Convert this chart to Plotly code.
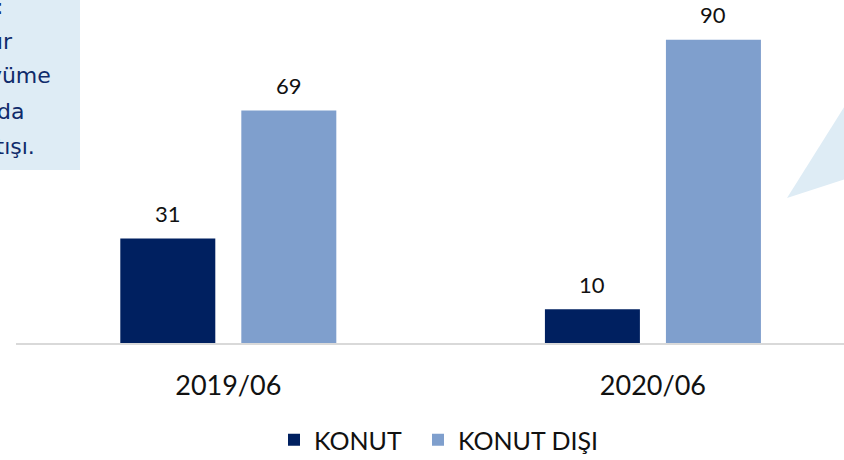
import plotly.graph_objects as go

categories = ["2019/06", "2020/06"]
series_names = ["KONUT", "KONUT DIŞI"]
konut = [31, 10]
konut_disi = [69, 90]
series_values = [konut, konut_disi]
colors = ["#002060", "#7F9FCD"]

box_lines = ["Kredi dağılımı:", "olmuştur", "büyüme", "alanında", "artışı."]

W, H = 844, 460
ML, MR, MT, MB = 16, 0, 6, 117
XR = [-0.5, 1.45]
YR = [0, 100]
BARGAP = 0.43
FONT = "Lato, 'Open Sans', sans-serif"
BOXFONT = "'DejaVu Sans', sans-serif"
legend_ids = ["legend", "legend2"]
legend_left = [289, 433]

def px(xp):
    return (xp - ML) / (W - ML - MR)

def py(yp):
    return (H - MB - yp) / (H - MT - MB)

fig = go.Figure()
for name, vals, col, lg in zip(series_names, series_values, colors, legend_ids):
    fig.add_trace(go.Bar(
        x=categories, y=vals, name=name, marker_color=col,
        marker_line_width=0, legend=lg,
    ))

# value labels above bars
slot = (1 - BARGAP) / len(series_names)
for i, vals in enumerate(series_values):
    off = (i - (len(series_names) - 1) / 2) * slot
    for j, v in enumerate(vals):
        fig.add_annotation(
            x=j + off, y=v, xref="x", yref="y", text=str(v),
            showarrow=False, yanchor="middle", yshift=25,
            font=dict(family=FONT, size=22, color="#111111"),
        )

# light blue text box at top-left (cut off)
fig.add_shape(type="rect", xref="paper", yref="paper",
              x0=px(-20), x1=px(80), y0=py(170), y1=py(-10),
              fillcolor="#DEECF5", line_width=0, layer="below")
line_right = [5, 15, 53, 27, 37]
line_base = [13, 48, 83, 118, 153]
for t, xr, yb in zip(box_lines, line_right, line_base):
    fig.add_annotation(
        x=px(xr), y=py(yb - 7), xref="paper", yref="paper", text=t,
        showarrow=False, xanchor="right", yanchor="middle",
        font=dict(family=BOXFONT, size=22, color="#0F2B6B"),
    )

# callout pointer triangle at right
fig.add_shape(type="path", xref="paper", yref="paper",
              path=f"M {px(787)} {py(198)} L {px(880)} {py(50)} L {px(880)} {py(168)} Z",
              fillcolor="#DEECF5", line_width=0, layer="below")

legend_style = dict(orientation="h", xanchor="left",
                    yref="container", y=(H - 440) / H, yanchor="middle",
                    font=dict(family=FONT, size=25, color="#111111"),
                    itemwidth=30, bgcolor="rgba(0,0,0,0)")

fig.update_layout(
    width=W, height=H,
    margin=dict(l=ML, r=MR, t=MT, b=MB),
    paper_bgcolor="white", plot_bgcolor="white",
    barmode="group", bargap=BARGAP, bargroupgap=0.215,
    font=dict(family=FONT, color="#111111"),
    showlegend=True,
    legend=dict(x=px(legend_left[0] - 15), **legend_style),
    legend2=dict(x=px(legend_left[1] - 15), **legend_style),
    xaxis=dict(range=XR, showgrid=False, showline=True, linecolor="#D9D9D9",
               linewidth=2, ticks="", ticklabelstandoff=18,
               tickfont=dict(family=FONT, size=27, color="#111111")),
    yaxis=dict(range=YR, visible=False, showgrid=False, zeroline=False),
)

fig.write_html("out.html", config={"displayModeBar": False},
               post_script="document.body.style.margin='0';document.body.style.overflow='hidden';")
